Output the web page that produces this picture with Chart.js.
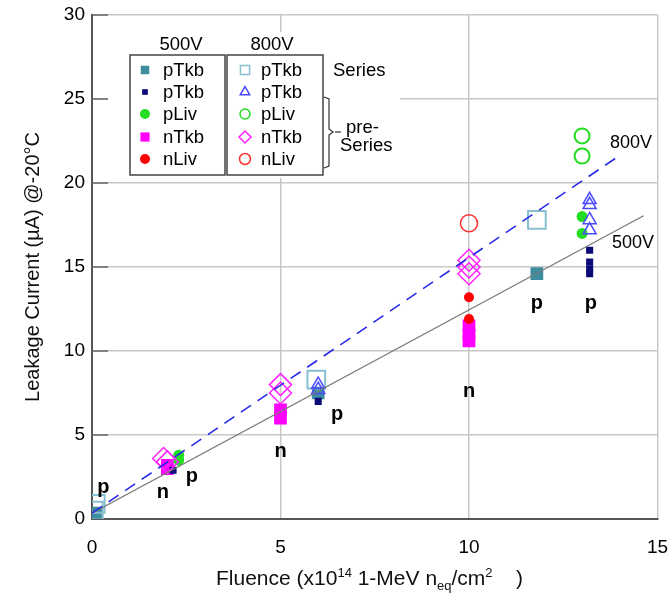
<!DOCTYPE html>
<html>
<head>
<meta charset="utf-8">
<title>Leakage current vs fluence</title>
<script src="https://cdn.jsdelivr.net/npm/chart.js@4.4.0/dist/chart.umd.min.js"></script>
<style>
  html, body { margin: 0; padding: 0; background: #fff; }
  #wrap { width: 672px; height: 594px; }
</style>
</head>
<body>
<div id="wrap"><canvas id="leakChart" width="672" height="594"></canvas></div>
<script>
const FONT = '"Liberation Sans", Arial, Helvetica, sans-serif';

// axis ticks
const xTicks = [0, 5, 10, 15];
const yTicks = [0, 5, 10, 15, 20, 25, 30];

// key text
const keyHeads = ['500V', '800V'];
const keyNames = ['pTkb', 'pTkb', 'pLiv', 'nTkb', 'nLiv'];

// 500V measurements: [fluence, current]
const pTkbSeries500 = [[0.05, 0.15], [0.1, 0.35], [6.0, 7.5], [11.8, 14.6]];
const pTkbPre500 = [[2.15, 2.9], [6.0, 7.0], [13.2, 16.0], [13.2, 15.3], [13.2, 14.9], [13.2, 14.6]];
const pLiv500 = [[2.3, 3.5], [2.3, 3.8], [13.0, 18.0], [13.0, 17.0]];
const nTkb500 = [[2.0, 3.0], [2.0, 3.2], [5.0, 6.0], [5.0, 6.5], [10.0, 11.5], [10.0, 11.0], [10.0, 10.6]];
const nLiv500 = [[10.0, 13.2], [10.0, 11.9]];

// 800V measurements
const pTkbSeries800 = [[0.1, 0.9], [0.05, 0.5], [5.95, 8.3], [11.8, 17.8]];
const pTkbPre800 = [[6.0, 8.0], [6.0, 7.7], [13.2, 19.0], [13.2, 18.7], [13.2, 17.8], [13.2, 17.2]];
const pLiv800 = [[13.0, 22.8], [13.0, 21.6]];
const nTkb800 = [[2.0, 3.4], [1.9, 3.6], [5.0, 8.0], [5.0, 7.5], [10.0, 15.4], [10.0, 15.0], [10.0, 14.6]];
const nLiv800 = [[10.0, 17.6]];

// straight-line fits
const fit500 = [[0, 0.35], [14.63, 18.05]];
const fit800 = [[0, 0.35], [13.97, 21.6]];

// p / n type tags and fit names, placed in data units
const typeTags = [[0.3, 1.9, 'p'], [1.88, 1.6, 'n'], [2.65, 2.55, 'p'], [5.0, 4.0, 'n'],
  [6.5, 6.2, 'p'], [10.0, 7.6, 'n'], [11.8, 12.8, 'p'], [13.23, 12.8, 'p']];
const fitTags = [[14.3, 22.4, '800V'], [14.35, 16.45, '500V']];

const toXY = pts => pts.map(([x, y]) => ({ x, y }));

function markers(label, pts, style, radius, color, filled, lw) {
  return {
    label: label,
    data: toXY(pts),
    showLine: false,
    pointStyle: style,
    pointRadius: radius,
    pointHoverRadius: radius,
    pointBackgroundColor: filled ? color : 'rgba(0,0,0,0)',
    pointBorderColor: color,
    pointBorderWidth: filled ? 0 : (lw || 1.5)
  };
}

function fitLine(label, pts, color, width, dash) {
  return {
    label: label,
    data: toXY(pts),
    showLine: true,
    borderColor: color,
    borderWidth: width,
    borderDash: dash,
    pointRadius: 0,
    fill: false
  };
}

const datasets = [
  fitLine('fit 800V', fit800, '#2a2ae8', 1.6, [12, 8]),
  fitLine('fit 500V', fit500, '#7a7a7a', 1.3, []),
  markers('nLiv 800V', nLiv800, 'circle', 8.5, '#ff3030', false, 1.5),
  markers('pLiv 800V', pLiv800, 'circle', 7.5, '#22dd22', false, 2),
  markers('nTkb 800V', nTkb800, 'rectRot', 11, '#ff22ff', false, 1.5),
  markers('pTkb 800V', pTkbPre800, 'triangle', 7.5, '#4a4aff', false, 1.5),
  markers('pTkb Series 800V', pTkbSeries800, 'rect', 12.5, '#86c0d0', false, 2),
  markers('nLiv 500V', nLiv500, 'circle', 5, '#ff0000', true),
  markers('pLiv 500V', pLiv500, 'circle', 5.5, '#22dd22', true),
  markers('pTkb 500V', pTkbPre500, 'rect', 5, '#0b0b78', true),
  markers('nTkb 500V', nTkb500, 'rect', 9, '#ff00ff', true),
  markers('pTkb Series 500V', pTkbSeries500, 'rect', 9, '#3d8da0', true)
];

// key rows: [colour, style, radius, filled]
const keyLeft = [
  ['#3d8da0', 'rect', 6, true],
  ['#0b0b78', 'rect', 4, true],
  ['#22dd22', 'circle', 5, true],
  ['#ff00ff', 'rect', 6.5, true],
  ['#ff0000', 'circle', 5, true]
];
const keyRight = [
  ['#86c0d0', 'rect', 6.5, false],
  ['#4a4aff', 'triangle', 5.5, false],
  ['#22dd22', 'circle', 5, false],
  ['#ff22ff', 'rectRot', 6, false],
  ['#ff3030', 'circle', 5.5, false]
];

function drawMarker(ctx, style, r, color, filled, x, y) {
  ctx.save();
  ctx.beginPath();
  if (style === 'circle') {
    ctx.arc(x, y, r, 0, Math.PI * 2);
  } else if (style === 'rect') {
    const s = r * Math.SQRT1_2;
    ctx.rect(x - s, y - s, 2 * s, 2 * s);
  } else if (style === 'rectRot') {
    ctx.moveTo(x - r, y); ctx.lineTo(x, y - r); ctx.lineTo(x + r, y); ctx.lineTo(x, y + r);
    ctx.closePath();
  } else if (style === 'triangle') {
    for (let i = 0; i < 3; i++) {
      const a = i * 2 * Math.PI / 3;
      const px = x + Math.sin(a) * r, py = y - Math.cos(a) * r;
      if (i === 0) ctx.moveTo(px, py); else ctx.lineTo(px, py);
    }
    ctx.closePath();
  }
  if (filled) {
    ctx.fillStyle = color;
    ctx.fill();
  } else {
    ctx.strokeStyle = color;
    ctx.lineWidth = 1.5;
    ctx.stroke();
  }
  ctx.restore();
}

const decor = {
  id: 'decor',
  beforeDatasetsDraw(chart) {
    const ctx = chart.ctx;
    const area = chart.chartArea;
    const ys = chart.scales.y;
    ctx.save();
    // blank the grid behind the key
    ctx.fillStyle = '#fff';
    ctx.fillRect(108, 32, 292, 146);
    // short inner ticks on the left axis
    ctx.strokeStyle = '#666';
    ctx.lineWidth = 1.5;
    yTicks.forEach(v => {
      if (v === 0) return;
      const py = ys.getPixelForValue(v);
      ctx.beginPath();
      ctx.moveTo(area.left, py);
      ctx.lineTo(area.left + 16, py);
      ctx.stroke();
    });
    ctx.restore();
  },
  afterDraw(chart) {
    const ctx = chart.ctx;
    const xs = chart.scales.x;
    const ys = chart.scales.y;
    ctx.save();

    // key boxes
    ctx.strokeStyle = '#444';
    ctx.lineWidth = 1.5;
    ctx.strokeRect(130, 55, 95, 120);
    ctx.strokeRect(227, 55, 96, 120);
    ctx.fillStyle = '#000';
    ctx.textBaseline = 'middle';
    ctx.textAlign = 'center';
    ctx.font = '18.5px ' + FONT;
    ctx.fillText(keyHeads[0], 181, 45);
    ctx.fillText(keyHeads[1], 272, 45);

    const rows = [70, 92, 114, 137, 159];
    ctx.textAlign = 'left';
    rows.forEach((ry, i) => {
      const l = keyLeft[i], r = keyRight[i];
      drawMarker(ctx, l[1], l[2], l[0], l[3], 145, ry);
      drawMarker(ctx, r[1], r[2], r[0], r[3], 245, ry);
      ctx.fillStyle = '#000';
      ctx.fillText(keyNames[i], 163, ry + 1);
      ctx.fillText(keyNames[i], 261, ry + 1);
    });

    // Series / pre-Series notes with brace
    ctx.fillText('Series', 333, 71);
    ctx.fillText('pre-', 346, 128);
    ctx.fillText('Series', 340, 146);
    ctx.strokeStyle = '#333';
    ctx.lineWidth = 1.2;
    ctx.beginPath();
    ctx.moveTo(324, 97); ctx.lineTo(329, 99); ctx.lineTo(329, 129);
    ctx.lineTo(333, 132); ctx.lineTo(329, 135); ctx.lineTo(329, 166); ctx.lineTo(324, 168);
    ctx.stroke();
    ctx.beginPath();
    ctx.moveTo(335, 132); ctx.lineTo(341, 132);
    ctx.stroke();

    // p / n tags
    ctx.textAlign = 'center';
    ctx.fillStyle = '#000';
    ctx.font = 'bold 20px ' + FONT;
    typeTags.forEach(([x, y, t]) => {
      ctx.fillText(t, xs.getPixelForValue(x), ys.getPixelForValue(y));
    });

    // fit names
    ctx.font = '18px ' + FONT;
    fitTags.forEach(([x, y, t]) => {
      ctx.fillText(t, xs.getPixelForValue(x), ys.getPixelForValue(y));
    });

    // x axis title with super/subscripts
    const parts = [
      ['Fluence (x10', 21, 0], ['14', 13, -8], [' 1-MeV n', 21, 0], ['eq', 13, 5],
      ['/cm', 21, 0], ['2', 13, -8], ['    )', 21, 0]
    ];
    let px = 216;
    ctx.textAlign = 'left';
    ctx.textBaseline = 'alphabetic';
    ctx.fillStyle = '#111';
    parts.forEach(p => {
      ctx.font = p[1] + 'px ' + FONT;
      ctx.fillText(p[0], px, 585 + p[2]);
      px += ctx.measureText(p[0]).width;
    });
    ctx.restore();
  }
};

new Chart(document.getElementById('leakChart').getContext('2d'), {
  type: 'scatter',
  data: { datasets: datasets },
  options: {
    responsive: false,
    animation: false,
    layout: { padding: { left: 0, right: 13, top: 15, bottom: 0 } },
    plugins: { legend: { display: false }, tooltip: { enabled: false } },
    scales: {
      x: {
        type: 'linear',
        min: 0,
        max: 15,
        afterBuildTicks: s => { s.ticks = xTicks.map(v => ({ value: v })); },
        afterFit: s => { s.height = 75; s.paddingLeft = 0; s.paddingRight = 0; },
        grid: { color: '#c8c8c8', lineWidth: 1.5, drawTicks: false },
        border: { color: '#555', width: 2 },
        ticks: { color: '#000', font: { family: FONT, size: 19 }, padding: 17, maxRotation: 0 }
      },
      y: {
        type: 'linear',
        min: 0,
        max: 30,
        afterBuildTicks: s => { s.ticks = yTicks.map(v => ({ value: v })); },
        afterFit: s => { s.width = 92; s.paddingTop = 0; s.paddingBottom = 0; },
        grid: { color: '#c8c8c8', lineWidth: 1.5, drawTicks: false },
        border: { color: '#555', width: 2 },
        ticks: { color: '#000', font: { family: FONT, size: 19 }, padding: 7 },
        title: {
          display: true,
          text: 'Leakage Current (µA) @-20°C',
          color: '#111',
          font: { family: FONT, size: 20 },
          padding: { top: 21, bottom: 0 }
        }
      }
    }
  },
  plugins: [decor]
});
</script>
</body>
</html>
